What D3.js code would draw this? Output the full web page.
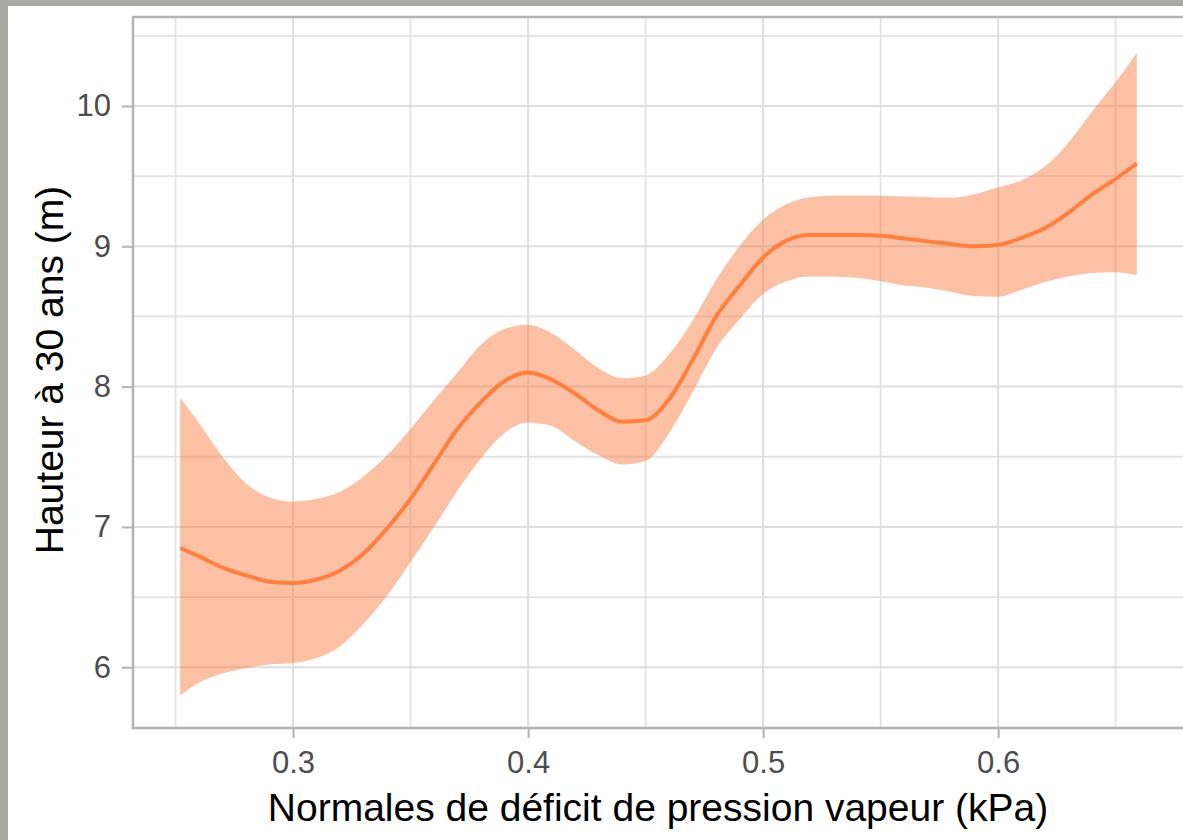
<!DOCTYPE html>
<html>
<head>
<meta charset="utf-8">
<script src="https://cdn.jsdelivr.net/npm/d3@7"></script>
<style>
  html, body { margin: 0; padding: 0; background: #a8a9a4; }
  svg { display: block; }
</style>
</head>
<body>
<svg id="chart" width="1183" height="840"></svg>
<script>
// ---- data ----
const vpd = [0.252, 0.26, 0.27, 0.28, 0.29, 0.30, 0.31, 0.32, 0.33, 0.34, 0.35, 0.36, 0.37, 0.38, 0.39,
             0.40, 0.41, 0.42, 0.43, 0.44, 0.45, 0.46, 0.47, 0.48, 0.49, 0.50, 0.51, 0.52, 0.53, 0.54,
             0.55, 0.56, 0.57, 0.58, 0.59, 0.60, 0.61, 0.62, 0.63, 0.64, 0.65, 0.659];
const fit = [6.85, 6.79, 6.71, 6.655, 6.61, 6.60, 6.625, 6.69, 6.81, 6.99, 7.20, 7.45, 7.70, 7.89, 8.04,
             8.10, 8.05, 7.95, 7.83, 7.75, 7.76, 7.91, 8.19, 8.50, 8.72, 8.92, 9.04, 9.08, 9.08, 9.08,
             9.075, 9.055, 9.035, 9.015, 9.00, 9.01, 9.06, 9.13, 9.24, 9.37, 9.48, 9.59];
const upper = [7.92, 7.74, 7.50, 7.31, 7.21, 7.18, 7.20, 7.25, 7.36, 7.51, 7.70, 7.905, 8.10, 8.30, 8.41,
               8.44, 8.38, 8.26, 8.13, 8.06, 8.08, 8.23, 8.47, 8.76, 9.00, 9.19, 9.30, 9.35, 9.36, 9.36,
               9.36, 9.355, 9.35, 9.345, 9.37, 9.42, 9.47, 9.57, 9.74, 9.96, 10.17, 10.38];
const lower = [5.80, 5.89, 5.955, 5.995, 6.02, 6.03, 6.065, 6.15, 6.31, 6.51, 6.75, 7.00, 7.26, 7.49, 7.67,
               7.745, 7.72, 7.61, 7.51, 7.445, 7.47, 7.67, 7.96, 8.27, 8.48, 8.66, 8.75, 8.785, 8.785, 8.775,
               8.75, 8.72, 8.705, 8.675, 8.645, 8.64, 8.69, 8.745, 8.785, 8.81, 8.815, 8.795];
const xTicks = [0.3, 0.4, 0.5, 0.6];
const xMinor = [0.25, 0.35, 0.45, 0.55, 0.65];
const yTicks = [6, 7, 8, 9, 10];
const yMinor = [6.5, 7.5, 8.5, 9.5, 10.5];
const xTitle = "Normales de déficit de pression vapeur (kPa)";
const yTitle = "Hauteur à 30 ans (m)";

const rows = vpd.map((v, i) => ({ x: v, y: fit[i], lo: lower[i], hi: upper[i] }));

// ---- layout ----
const svg = d3.select("#chart");
const P = { left: 133, right: 1185, top: 17, bottom: 728 };

svg.append("rect").attr("x", 8).attr("y", 6).attr("width", 1183 - 8).attr("height", 840 - 6)
  .attr("fill", "#ffffff");

const x = d3.scaleLinear().domain([0.2319, 0.6795]).range([P.left, P.right]);
const y = d3.scaleLinear().domain([5.567, 10.634]).range([P.bottom, P.top]);

const plot = svg.append("g");
plot.append("clipPath").attr("id", "clip").append("rect")
  .attr("x", P.left).attr("y", P.top).attr("width", P.right - P.left).attr("height", P.bottom - P.top);

const grid = plot.append("g").attr("clip-path", "url(#clip)");
grid.selectAll(".vmin").data(xMinor).join("line")
  .attr("x1", d => x(d)).attr("x2", d => x(d)).attr("y1", P.top).attr("y2", P.bottom)
  .attr("stroke", "#e3e3e3").attr("stroke-width", 1.8);
grid.selectAll(".hmin").data(yMinor).join("line")
  .attr("y1", d => y(d)).attr("y2", d => y(d)).attr("x1", P.left).attr("x2", P.right)
  .attr("stroke", "#e3e3e3").attr("stroke-width", 1.8);
grid.selectAll(".vmaj").data(xTicks).join("line")
  .attr("x1", d => x(d)).attr("x2", d => x(d)).attr("y1", P.top).attr("y2", P.bottom)
  .attr("stroke", "#dedede").attr("stroke-width", 2);
grid.selectAll(".hmaj").data(yTicks).join("line")
  .attr("y1", d => y(d)).attr("y2", d => y(d)).attr("x1", P.left).attr("x2", P.right)
  .attr("stroke", "#dedede").attr("stroke-width", 2);

// ribbon
const area = d3.area().x(d => x(d.x)).y0(d => y(d.lo)).y1(d => y(d.hi)).curve(d3.curveMonotoneX);
plot.append("path").datum(rows).attr("d", area)
  .attr("fill", "#f97c40").attr("fill-opacity", 0.48).attr("clip-path", "url(#clip)");

// fitted line
const line = d3.line().x(d => x(d.x)).y(d => y(d.y)).curve(d3.curveMonotoneX);
plot.append("path").datum(rows).attr("d", line)
  .attr("fill", "none").attr("stroke", "#ff7f3f").attr("stroke-width", 4);

// panel border
plot.append("rect").attr("x", P.left).attr("y", P.top)
  .attr("width", P.right - P.left).attr("height", P.bottom - P.top)
  .attr("fill", "none").attr("stroke", "#b3b3b3").attr("stroke-width", 2.5);

// axes
const xAxis = d3.axisBottom(x).tickValues(xTicks).tickFormat(d3.format(".1f")).tickSize(10).tickPadding(13);
const gx = svg.append("g").attr("transform", `translate(0,${P.bottom})`).call(xAxis);
gx.select(".domain").remove();
gx.selectAll(".tick line").attr("stroke", "#b3b3b3").attr("stroke-width", 2);
gx.selectAll(".tick text").attr("fill", "#4d4d4d").style("font-family", "'Liberation Sans', Arial, sans-serif")
  .style("font-size", "31px");

const yAxis = d3.axisLeft(y).tickValues(yTicks).tickFormat(d3.format("d")).tickSize(11).tickPadding(11);
const gy = svg.append("g").attr("transform", `translate(${P.left},0)`).call(yAxis);
gy.select(".domain").remove();
gy.selectAll(".tick line").attr("stroke", "#b3b3b3").attr("stroke-width", 2);
gy.selectAll(".tick text").attr("fill", "#4d4d4d").style("font-family", "'Liberation Sans', Arial, sans-serif")
  .style("font-size", "31px");

// titles
svg.append("text").attr("x", 658).attr("y", 821).attr("text-anchor", "middle")
  .style("font-family", "'Liberation Sans', Arial, sans-serif").style("font-size", "39px")
  .attr("fill", "#000").text(xTitle);
svg.append("text").attr("transform", `translate(63,370) rotate(-90)`).attr("text-anchor", "middle")
  .style("font-family", "'Liberation Sans', Arial, sans-serif").style("font-size", "39px")
  .attr("fill", "#000").text(yTitle);
</script>
</body>
</html>
